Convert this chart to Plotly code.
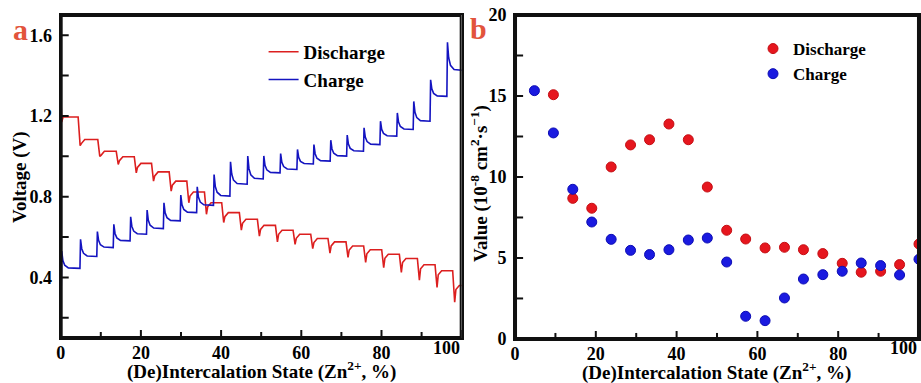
import plotly.graph_objects as go

# ---------------- Panel a: GITT voltage profile ----------------
# Discharge (red): position of each current pulse, spike minimum, plateau levels
dis_start_v = 1.33
dis_drop_x = [4.7, 9.6, 14.2, 18.7, 23.0, 27.4, 31.8, 36.2, 40.5, 44.9, 49.4,
              53.9, 58.3, 62.7, 67.0, 71.5, 75.9, 80.4, 84.8, 89.3, 93.7, 98.1]
dis_spike_v = [1.053, 1.000, 0.960, 0.918, 0.877, 0.828, 0.770, 0.713, 0.672, 0.634, 0.605,
               0.576, 0.564, 0.543, 0.520, 0.499, 0.474, 0.449, 0.425, 0.387, 0.351, 0.277]
dis_plateau_v = [1.195, 1.083, 1.025, 0.998, 0.965, 0.923, 0.877, 0.823, 0.770, 0.721, 0.688,
                 0.658, 0.634, 0.614, 0.593, 0.576, 0.556, 0.537, 0.515, 0.494, 0.463, 0.433, 0.360]

# Charge (blue): position of each pulse, spike maximum, plateau levels
chg_spike_x = [0.1, 4.8, 9.0, 13.1, 17.3, 21.4, 25.6, 29.8, 33.9, 38.1, 42.2, 46.5,
               50.5, 54.7, 58.9, 63.0, 67.2, 71.3, 75.5, 79.6, 83.8, 87.9, 92.1, 96.3]
chg_peak_v = [0.530, 0.589, 0.627, 0.663, 0.700, 0.734, 0.770, 0.808, 0.849, 0.910, 0.973, 1.001,
              1.002, 1.014, 1.034, 1.058, 1.080, 1.105, 1.141, 1.174, 1.215, 1.272, 1.379, 1.565]
chg_plateau_v = [0.300, 0.445, 0.504, 0.548, 0.581, 0.614, 0.642, 0.680, 0.721, 0.757, 0.803, 0.862,
                 0.888, 0.918, 0.935, 0.962, 0.976, 1.001, 1.025, 1.058, 1.100, 1.133, 1.174, 1.297, 1.426]

# ---------------- Panel b: diffusion coefficients ----------------
state_x = [4.8, 9.5, 14.3, 19.0, 23.8, 28.6, 33.3, 38.1, 42.9, 47.6, 52.4,
           57.1, 61.9, 66.7, 71.4, 76.2, 81.0, 85.7, 90.5, 95.2, 100.0]
dis_coef = [None, 15.08, 8.68, 8.07, 10.62, 11.98, 12.30, 13.27, 12.30, 9.38, 6.71,
            6.17, 5.62, 5.66, 5.51, 5.27, 4.67, 4.12, 4.18, 4.59, 5.86]
chg_coef = [15.33, 12.72, 9.24, 7.22, 6.15, 5.47, 5.21, 5.51, 6.11, 6.23, 4.75,
            1.40, 1.13, 2.53, 3.70, 3.97, 4.18, 4.69, 4.53, 3.95, 4.92]

# axis ranges and ticks (blank labels = minor ticks; the last x label is placed separately)
x_range = [0, 100]
va_range = [0.1, 1.7]
vb_range = [0, 20]
x_tickvals = [0, 10, 20, 30, 40, 50, 60, 70, 80, 90, 100]
x_ticktext = ["0", "", "20", "", "40", "", "60", "", "80", "", ""]
x_last_label = "100"
va_tickvals = [0.2, 0.4, 0.6, 0.8, 1.0, 1.2, 1.4, 1.6]
va_ticktext = ["", "0.4", "", "0.8", "", "1.2", "", "1.6"]
vb_tickvals = [0, 2.5, 5, 7.5, 10, 12.5, 15, 17.5, 20]
vb_ticktext = ["0", "", "5", "", "10", "", "15", "", "20"]


def bold(labels):
    return ["<b>%s</b>" % t if t else "" for t in labels]


RED = "#dc1f1f"
BLUE = "#1414c0"
FONT = "Liberation Serif"

# build polylines from the read step values
rx = [0.0, 0.25, 0.6]
ry = [dis_start_v, 1.17, dis_plateau_v[0]]
for k, xd in enumerate(dis_drop_x):
    rx += [xd - 0.35, xd + 0.15, xd + 0.45, xd + 1.3]
    ry += [dis_plateau_v[k], dis_spike_v[k], dis_plateau_v[k + 1] - 0.02, dis_plateau_v[k + 1]]
rx.append(100.0)
ry.append(dis_plateau_v[-1])

bx = [0.0]
by = [chg_plateau_v[0]]
for k, xs in enumerate(chg_spike_x):
    pn = chg_plateau_v[k + 1]
    pk = chg_peak_v[k]
    bx += [xs, xs + 0.15, xs + 0.45, xs + 0.9, xs + 1.8]
    by += [chg_plateau_v[k], pk, pn + 0.45 * (pk - pn), pn + 0.18 * (pk - pn), pn + 0.03 * (pk - pn)]
bx.append(100.0)
by.append(chg_plateau_v[-1])

fig = go.Figure()
fig.add_trace(go.Scatter(x=rx, y=ry, mode="lines", name="<b>Discharge</b>",
                         line=dict(color=RED, width=1.6), xaxis="x", yaxis="y", legend="legend"))
fig.add_trace(go.Scatter(x=bx, y=by, mode="lines", name="<b>Charge</b>",
                         line=dict(color=BLUE, width=1.6), xaxis="x", yaxis="y", legend="legend"))

fig.add_trace(go.Scatter(x=state_x, y=dis_coef, mode="markers", name="<b>Discharge</b>",
                         marker=dict(color="#e6161e", size=10, line=dict(width=1, color="#c40f14")),
                         xaxis="x2", yaxis="y2", legend="legend2"))
fig.add_trace(go.Scatter(x=state_x, y=chg_coef, mode="markers", name="<b>Charge</b>",
                         marker=dict(color="#1a1ae0", size=10, line=dict(width=1, color="#0d0db4")),
                         xaxis="x2", yaxis="y2", legend="legend2"))


# frame + inside tick marks for each panel, expressed in that panel's axis units
def frame_and_ticks(xr, yr, xt, yt, xlen_major, xlen_minor, ylen, xaxis, yaxis):
    fx = [xr[0], xr[1], xr[1], xr[0], xr[0]]
    fy = [yr[0], yr[0], yr[1], yr[1], yr[0]]
    fig.add_trace(go.Scatter(x=fx, y=fy, mode="lines", line=dict(color="#101010", width=4),
                             hoverinfo="skip", showlegend=False, xaxis=xaxis, yaxis=yaxis))
    tx, ty = [], []
    for i, v in enumerate(xt):
        ln = xlen_major if i % 2 == 0 else xlen_minor
        tx += [v, v, None]
        ty += [yr[0], yr[0] + ln, None]
    for v in yt:
        if yr[0] < v < yr[1]:
            tx += [xr[0], xr[0] + ylen, None]
            ty += [v, v, None]
    fig.add_trace(go.Scatter(x=tx, y=ty, mode="lines", line=dict(color="#101010", width=2),
                             hoverinfo="skip", showlegend=False, xaxis=xaxis, yaxis=yaxis))


frame_and_ticks(x_range, va_range, x_tickvals, va_tickvals, 0.040, 0.030, 2.0, "x", "y")
frame_and_ticks(x_range, vb_range, x_tickvals, vb_tickvals, 0.49, 0.37, 2.0, "x2", "y2")

tickfont = dict(family=FONT, size=18, color="black")
common = dict(showline=True, linecolor="#101010", linewidth=2, mirror=True, ticks="",
              showgrid=False, zeroline=False, tickfont=tickfont, tickmode="array", automargin=False)

fig.update_layout(
    template="simple_white",
    width=921, height=383,
    margin=dict(l=0, r=0, t=0, b=0, autoexpand=False),
    font=dict(family=FONT, color="black"),
    xaxis=dict(domain=[0.0659, 0.5013], range=x_range, tickvals=x_tickvals, ticktext=bold(x_ticktext),
               anchor="y", ticklabelstandoff=-3, **common),
    yaxis=dict(domain=[0.1175, 0.9608], range=va_range, tickvals=va_tickvals, ticktext=bold(va_ticktext),
               anchor="x", ticklabelstandoff=3, **common),
    xaxis2=dict(domain=[0.5592, 0.9978], range=x_range, tickvals=x_tickvals, ticktext=bold(x_ticktext),
                anchor="y2", ticklabelstandoff=-3, **common),
    yaxis2=dict(domain=[0.1150, 0.9608], range=vb_range, tickvals=vb_tickvals, ticktext=bold(vb_ticktext),
                anchor="x2", ticklabelstandoff=3, **common),
    legend=dict(x=0.2862, y=0.914, xanchor="left", yanchor="top", bgcolor="rgba(0,0,0,0)",
                font=dict(family=FONT, size=19, color="black"),
                itemwidth=30, tracegroupgap=0),
    legend2=dict(x=0.8176, y=0.919, xanchor="left", yanchor="top", bgcolor="rgba(0,0,0,0)",
                 font=dict(family=FONT, size=17, color="black"),
                 itemwidth=30, tracegroupgap=0),
    showlegend=True,
)

title_font = dict(family=FONT, size=19, color="black")
letter_font = dict(family=FONT, size=30, color="#e2543c")
tick_font_ann = dict(family=FONT, size=18, color="black")
ann = [
    dict(text="<b>(De)Intercalation State (Zn<sup>2+</sup>, %)</b>", x=261.7 / 921, y=1 - 370 / 383,
         xref="paper", yref="paper", showarrow=False, font=title_font, xanchor="center", yanchor="middle"),
    dict(text="<b>Voltage (V)</b>", x=20 / 921, y=1 - 177 / 383, textangle=-90,
         xref="paper", yref="paper", showarrow=False, font=title_font, xanchor="center", yanchor="middle"),
    dict(text="<b>(De)Intercalation State (Zn<sup>2+</sup>, %)</b>", x=716.7 / 921, y=1 - 371 / 383,
         xref="paper", yref="paper", showarrow=False, font=title_font, xanchor="center", yanchor="middle"),
    dict(text="<b>Value (10<sup>-8</sup> cm<sup>2</sup>·s<sup>−1</sup>)</b>", x=480 / 921, y=1 - 184 / 383,
         textangle=-90, xref="paper", yref="paper", showarrow=False, font=title_font,
         xanchor="center", yanchor="middle"),
    dict(text="<b>a</b>", x=20 / 921, y=1 - 30 / 383, xref="paper", yref="paper", showarrow=False,
         font=letter_font, xanchor="center", yanchor="middle"),
    dict(text="<b>b</b>", x=478 / 921, y=1 - 28 / 383, xref="paper", yref="paper", showarrow=False,
         font=letter_font, xanchor="center", yanchor="middle"),
    # last x tick labels, right-aligned to the frame as in the reference
    dict(text="<b>%s</b>" % x_last_label, x=x_range[1], xref="x", y=1 - 348 / 383, yref="paper",
         showarrow=False, font=tick_font_ann, xanchor="right", yanchor="middle"),
    dict(text="<b>%s</b>" % x_last_label, x=x_range[1], xref="x2", y=1 - 348 / 383, yref="paper",
         showarrow=False, font=tick_font_ann, xanchor="right", yanchor="middle"),
]
fig.update_layout(annotations=ann)

fig.write_html("out.html", config={"displayModeBar": False},
               post_script="document.body.style.margin='0px';document.body.style.padding='0px';")
